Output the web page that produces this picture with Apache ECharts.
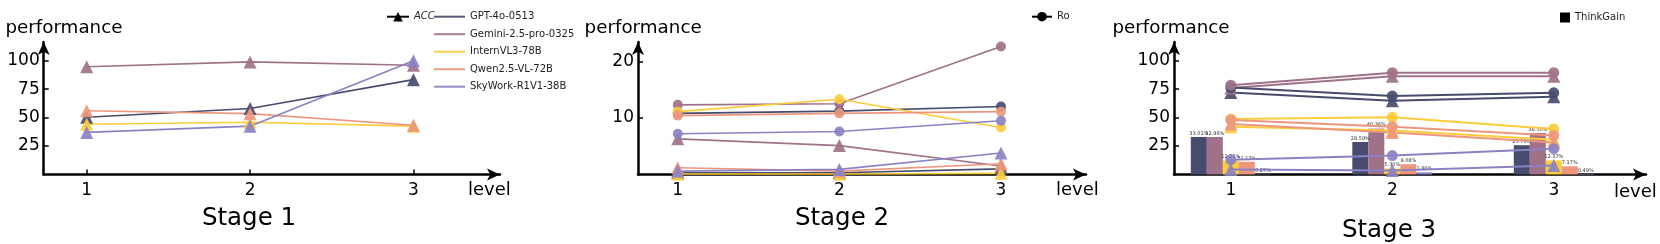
<!DOCTYPE html>
<html><head><meta charset="utf-8">
<script src="https://cdn.jsdelivr.net/npm/echarts@6/dist/echarts.min.js"></script>
<style>html,body{margin:0;padding:0;background:#fff}#c{width:1660px;height:244px}</style>
</head><body><div id="c"></div>
<script>
const levels = [1, 2, 3];
const models = ['GPT-4o-0513', 'Gemini-2.5-pro-0325', 'InternVL3-78B', 'Qwen2.5-VL-72B', 'SkyWork-R1V1-38B'];
const colors = ['#474c6e', '#a0728a', '#fccc3b', '#ec977d', '#8b82c3'];
const yTicks13 = [25, 50, 75, 100];
const yTicks2 = [10, 20];
// Stage 1 : ACC (triangles)
const stage1Acc = [
  [50.3, 58, 83.4],
  [94.8, 99, 96],
  [44.2, 46, 42.5],
  [56, 53.5, 43.3],
  [37, 42.5, 100]
];
// Stage 2 : Ro (circles) and triangles
const stage2Ro = [
  [10.8, 11.2, 12.0],
  [12.3, 12.5, 22.6],
  [11.1, 13.3, 8.3],
  [10.4, 10.8, 11.1],
  [7.2, 7.6, 9.5]
];
const stage2Acc = [
  [0.3, 0.3, 1.0],
  [6.3, 5.1, 1.5],
  [0.1, 0.1, 0.2],
  [1.2, 0.6, 1.9],
  [0.6, 0.9, 3.8]
];
// Stage 3
const stage3Ro = [
  [76.5, 69, 71.8],
  [78.5, 89.5, 89.5],
  [48.8, 50.3, 40.1],
  [48, 42, 34.3],
  [13, 16.6, 22.7]
];
const stage3Acc = [
  [72, 64.8, 68.3],
  [76, 86.3, 86.3],
  [42, 38.6, 30.5],
  [44.5, 36.9, 28.2],
  [4.4, 3.5, 8]
];
const thinkGain = [
  [33.01, 28.59, 25.73],
  [32.96, 40.36, 36.50],
  [12.21, 5.30, 12.37],
  [11.17, 9.08, 7.17],
  [0.27, 1.90, 0.49]
];

const FONT = '"DejaVu Sans", sans-serif';
const chart = echarts.init(document.getElementById('c'), null, {renderer: 'canvas'});

const gridTop = 42, gridH = 132.5;
const grids = [
  {left: 43.7, top: gridTop, width: 456.3, height: gridH},
  {left: 638, top: gridTop, width: 448, height: gridH},
  {left: 1174, top: gridTop, width: 472, height: gridH}
];
const xRanges = [[0.737, 3.530], [0.754, 3.526], [0.648, 3.571]];
const yMax = [116.5, 23.4, 116.5];
const yCustom = [yTicks13, yTicks2, yTicks13];

const axisLine = {show: true, symbol: ['none', 'arrow'], symbolSize: [9, 13], lineStyle: {color: '#000', width: 2.5}};

const xAxes = xRanges.map((r, i) => ({
  type: 'value', gridIndex: i, min: r[0], max: r[1],
  axisLine: axisLine,
  splitLine: {show: false},
  axisTick: {show: true, inside: true, length: 5, customValues: levels, lineStyle: {color: '#000', width: 1.5}},
  axisLabel: {customValues: levels, fontSize: 17, color: '#000', margin: 8, fontFamily: FONT}
}));
const yAxes = yMax.map((m, i) => ({
  type: 'value', gridIndex: i, min: 0, max: m,
  axisLine: axisLine,
  splitLine: {show: false},
  axisTick: {show: true, inside: true, length: 5, customValues: yCustom[i], lineStyle: {color: '#000', width: 1.5}},
  axisLabel: {customValues: yCustom[i], fontSize: 17, color: '#000', margin: 4, fontFamily: FONT}
}));

const series = [];
function pts(arr) { return levels.map((l, k) => [l, arr[k]]); }
function lineSeries(name, data, idx, color, symbol, size, width) {
  return {
    type: 'line', name: name, xAxisIndex: idx, yAxisIndex: idx,
    data: pts(data), symbol: symbol, symbolSize: size,
    lineStyle: {color: color, width: width},
    itemStyle: {color: color, opacity: 0.92},
    z: 3, animation: false
  };
}
// Stage 1
models.forEach((m, i) => series.push(lineSeries(m, stage1Acc[i], 0, colors[i], 'triangle', 13, 1.6)));
// Stage 2
models.forEach((m, i) => series.push(lineSeries(m, stage2Acc[i], 1, colors[i], 'triangle', 13, 1.6)));
models.forEach((m, i) => series.push(lineSeries(m, stage2Ro[i], 1, colors[i], 'circle', 10, 1.6)));
// Stage 3 bars
models.forEach((m, i) => series.push({
  type: 'bar', name: m, xAxisIndex: 2, yAxisIndex: 2,
  data: pts(thinkGain[i]), barWidth: 16, barGap: '0%',
  itemStyle: {color: colors[i]}, z: 1, animation: false,
  label: {show: true, position: 'top', distance: 1, fontSize: 5, color: '#333', fontFamily: FONT,
    formatter: p => p.value[1].toFixed(2) + '%'}
}));
models.forEach((m, i) => series.push(lineSeries(m, stage3Acc[i], 2, colors[i], 'triangle', 13, 2)));
models.forEach((m, i) => series.push(lineSeries(m, stage3Ro[i], 2, colors[i], 'circle', 11, 2)));
// legend-only entries
series.push({type: 'line', name: 'ACC', xAxisIndex: 0, yAxisIndex: 0, data: [], symbol: 'triangle', symbolSize: 10,
  itemStyle: {color: '#000'}, lineStyle: {color: '#000', width: 2}});
series.push({type: 'line', name: 'Ro', xAxisIndex: 0, yAxisIndex: 0, data: [], symbol: 'circle', symbolSize: 10,
  itemStyle: {color: '#000'}, lineStyle: {color: '#000', width: 2}});
series.push({type: 'bar', name: 'ThinkGain', xAxisIndex: 0, yAxisIndex: 0, data: [], itemStyle: {color: '#000'}});

const legTxt = {fontSize: 10, color: '#222', fontFamily: FONT, lineHeight: 12};
const legends = [
  {data: [{name: 'ACC', textStyle: {fontStyle: 'italic'}}], left: 381, top: 5.7, itemWidth: 22, itemHeight: 12, textStyle: legTxt, selectedMode: false},
  {data: models, orient: 'vertical', left: 429, top: 5.7, icon: 'rect', itemWidth: 31, itemHeight: 2, itemGap: 5.5, textStyle: legTxt, selectedMode: false},
  {data: ['Ro'], left: 1026, top: 5.7, itemWidth: 20, itemHeight: 12, textStyle: legTxt, selectedMode: false},
  {data: ['ThinkGain'], left: 1555, top: 6.5, icon: 'rect', itemWidth: 10, itemHeight: 10, textStyle: legTxt, selectedMode: false}
];

function txt(x, y, text, size, align) {
  return {type: 'text', x: x, y: y, silent: true,
    style: {text: text, font: size + 'px ' + FONT, fill: '#000', align: align || 'left', verticalAlign: 'middle'}};
}
const graphics = [
  txt(5.4, 28, 'performance', 18.3), txt(584.6, 28, 'performance', 18.3), txt(1112.5, 28, 'performance', 18.3),
  txt(468, 190, 'level', 18), txt(1056, 190, 'level', 18), txt(1614, 192.5, 'level', 18),
  txt(249, 219, 'Stage 1', 24.5, 'center'), txt(842, 219, 'Stage 2', 24.5, 'center'), txt(1389, 231, 'Stage 3', 24.5, 'center')
];

chart.setOption({
  animation: false,
  backgroundColor: '#fff',
  textStyle: {fontFamily: FONT},
  grid: grids,
  xAxis: xAxes,
  yAxis: yAxes,
  legend: legends,
  series: series,
  graphic: graphics
});
</script></body></html>
